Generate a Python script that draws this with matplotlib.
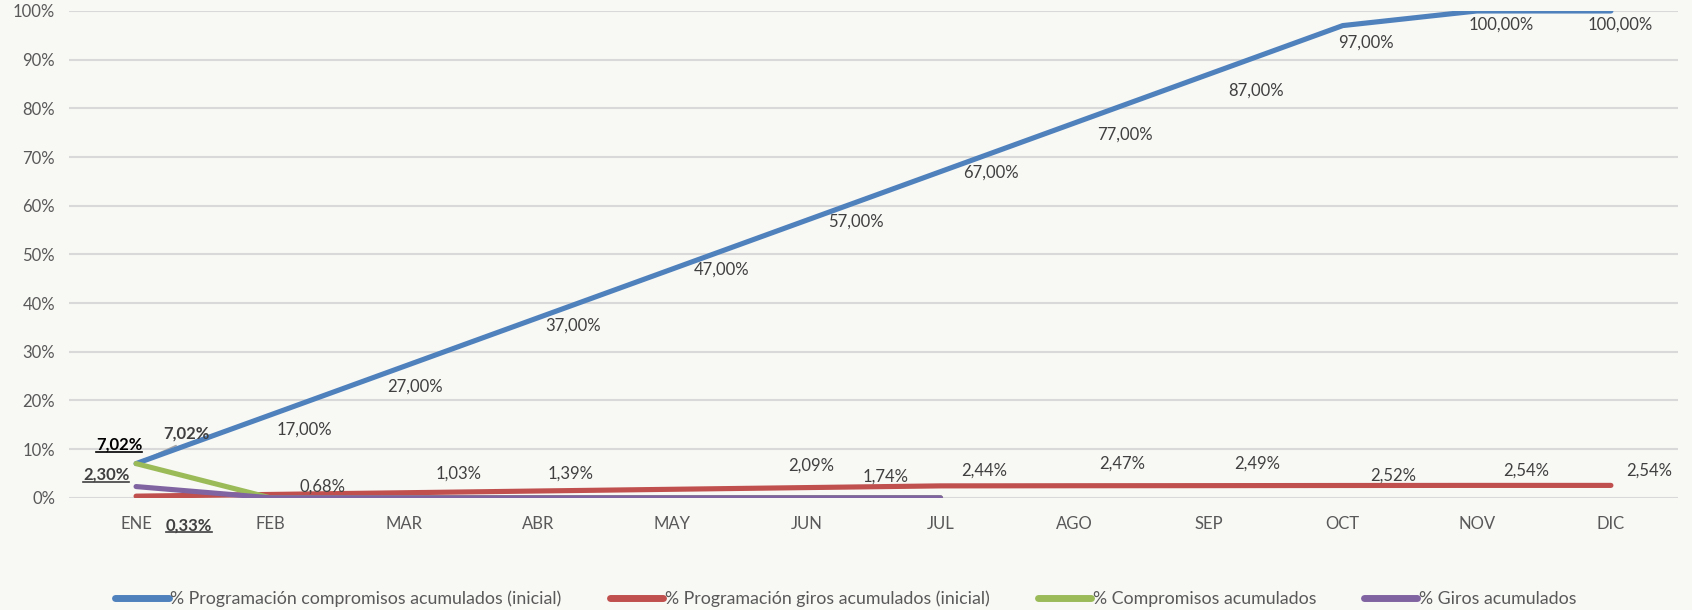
import matplotlib
matplotlib.use("Agg")
import matplotlib.pyplot as plt
from matplotlib.lines import Line2D
import numpy as np

plt.rcParams['font.family'] = ['Lato', 'DejaVu Sans']

meses = ["ENE", "FEB", "MAR", "ABR", "MAY", "JUN", "JUL", "AGO", "SEP", "OCT", "NOV", "DIC"]
prog_compromisos = [7.02, 17, 27, 37, 47, 57, 67, 77, 87, 97, 100, 100]
prog_giros = [0.33, 0.68, 1.03, 1.39, 1.74, 2.09, 2.44, 2.47, 2.49, 2.52, 2.54, 2.54]
compromisos = [7.02, 0, 0, 0, 0, 0, 0]
giros = [2.30, 0, 0, 0, 0, 0, 0]

nombres = ["% Programación compromisos acumulados (inicial)",
           "% Programación giros acumulados (inicial)",
           "% Compromisos acumulados",
           "% Giros acumulados"]
colores = ["#4F81BD", "#C0504D", "#9BBB59", "#8064A2"]

# label offsets (pixels) relative to each point
off_blue = [(50, 30), (34, -15), (11, -20), (35, -8), (49, -1), (49, -1), (50, -1),
            (50, -12), (47, -16), (23, -17), (24, -14), (9, -14)]
off_red = [(53, -29), (52, 8), (54, 19), (32, 17), (213, 13), (5, 22), (44, 15),
           (48, 22), (49, 22), (50, 10), (49, 15), (38, 15)]

bg = "#F8F8F5"
fs = 12
fig = plt.figure(figsize=(16.92, 6.10), dpi=100, facecolor=bg)
ax = fig.add_axes([0.0408, 0.184, 0.9509, 0.798])
ax.set_facecolor(bg)

x = np.arange(len(meses))
lw = 3.7
ax.plot(x, prog_compromisos, color=colores[0], lw=lw, solid_capstyle='round', zorder=3)
ax.plot(x, prog_giros, color=colores[1], lw=lw, solid_capstyle='round', zorder=3)
ax.plot(x[:len(compromisos)], compromisos, color=colores[2], lw=lw, solid_capstyle='round', zorder=3)
ax.plot(x[:len(giros)], giros, color=colores[3], lw=lw, solid_capstyle='round', zorder=4)

ax.set_xlim(-0.5, len(meses) - 0.5)
ax.set_ylim(0, 100)
ax.set_yticks(np.arange(0, 101, 10))
ax.set_yticklabels([f"{v}%" for v in range(0, 101, 10)])
ax.set_xticks(x)
ax.set_xticklabels(meses)
ax.tick_params(axis='both', length=0, labelsize=fs, colors="#595959")
ax.tick_params(axis='x', pad=13)
ax.tick_params(axis='y', pad=10)
ax.grid(axis='y', color="#D9D9D9", lw=1.5, zorder=0)
ax.set_axisbelow(True)
for s in ax.spines.values():
    s.set_visible(False)

def fmt(v):
    return f"{v:.2f}".replace(".", ",") + "%"

lab_color = "#404040"
texts_ul = []
for i, v in enumerate(prog_compromisos):
    t = ax.annotate(fmt(v), xy=(i, v), xytext=off_blue[i], textcoords='offset pixels',
                    ha='center', va='center', fontsize=fs, color=lab_color,
                    fontweight='bold' if i == 0 else 'normal', zorder=5)
for i, v in enumerate(prog_giros):
    t = ax.annotate(fmt(v), xy=(i, v), xytext=off_red[i], textcoords='offset pixels',
                    ha='center', va='center', fontsize=fs, color=lab_color,
                    fontweight='bold' if i == 0 else 'normal', zorder=5)
    if i == 0:
        texts_ul.append(t)
t = ax.annotate(fmt(compromisos[0]), xy=(0, compromisos[0]), xytext=(-17, 19),
                textcoords='offset pixels', ha='center', va='center', fontsize=fs,
                color="#000000", fontweight='bold', zorder=5)
texts_ul.append(t)
t = ax.annotate(fmt(giros[0]), xy=(0, giros[0]), xytext=(-30, 12),
                textcoords='offset pixels', ha='center', va='center', fontsize=fs,
                color=lab_color, fontweight='bold', zorder=5)
texts_ul.append(t)

# leader line for first blue label
ax.annotate("", xy=(0, prog_compromisos[0]), xytext=(40, 18), textcoords='offset pixels',
            arrowprops=dict(arrowstyle='-', color="#A6A6A6", lw=1.2, shrinkA=0, shrinkB=0),
            zorder=2)

handles = [Line2D([0], [0], color=c, lw=5, solid_capstyle='round') for c in colores]
fig.legend(handles, nombres, loc='center', bbox_to_anchor=(0.5, 0.018), ncol=4,
           frameon=False, fontsize=12.8, handlelength=3.0, handletextpad=0.1,
           columnspacing=2.7, labelcolor="#595959")

fig.canvas.draw()
r = fig.canvas.get_renderer()
for t in texts_ul:
    bb = t.get_window_extent(r)
    y0 = bb.y0 + 1
    fig.add_artist(Line2D([bb.x0 / fig.dpi / fig.get_figwidth(), bb.x1 / fig.dpi / fig.get_figwidth()],
                          [y0 / fig.dpi / fig.get_figheight()] * 2,
                          transform=fig.transFigure, color=t.get_color(), lw=1.2))

fig.savefig("out.png", dpi=100, facecolor=bg)
